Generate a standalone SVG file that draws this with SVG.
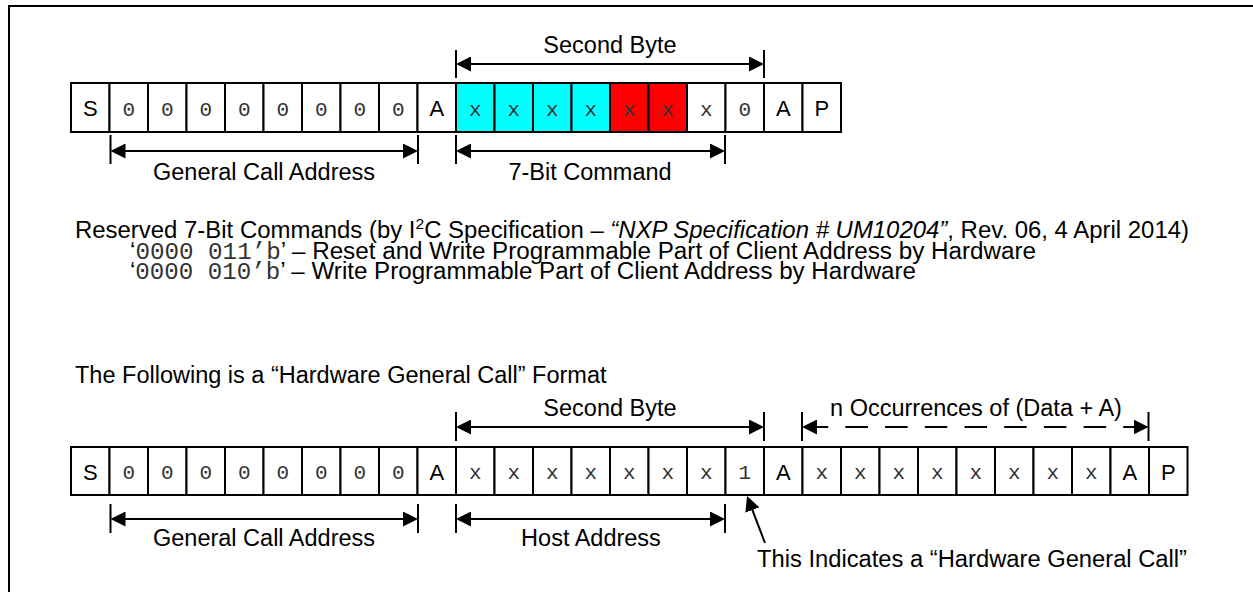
<svg xmlns="http://www.w3.org/2000/svg" width="1253" height="592" viewBox="0 0 1253 592">
<defs>
<marker id="ah" viewBox="0 0 15 15" refX="12" refY="7.5" markerWidth="15" markerHeight="15" markerUnits="userSpaceOnUse" orient="auto-start-reverse">
<path d="M0,0 L15,7.5 L0,15 Z" fill="#000"/>
</marker>
<style>
.c{fill:#fff;stroke:#000;stroke-width:2}
.cy{fill:#00ffff}
.rd{fill:#ff0000}
.L{font-family:"Liberation Sans",Arial,sans-serif;font-size:22px;fill:#000;text-anchor:middle}
.M{font-family:"Liberation Mono","Courier New",monospace;font-size:21px;fill:#333;text-anchor:middle}
.t{font-family:"Liberation Sans",Arial,sans-serif;font-size:23.5px;fill:#000}
.p{font-size:23px}
.tm{font-family:"Liberation Mono","Courier New",monospace;fill:#333}
.m{text-anchor:middle}
.ln{stroke:#000;stroke-width:2;fill:none}
.ar{stroke:#000;stroke-width:2;fill:none;marker-start:url(#ah);marker-end:url(#ah)}
</style>
</defs>
<g id="frame"><path class="ln" d="M9,592 V6 H1253"/></g>

<g id="row1">
<g id="r1c0"><rect class="c" x="71" y="83" width="38.5" height="49"/><text class="L" x="90.25" y="116">S</text></g>
<g id="r1c1"><rect class="c" x="109.5" y="83" width="38.5" height="49"/><text class="M" x="128.75" y="115.5">0</text></g>
<g id="r1c2"><rect class="c" x="148" y="83" width="38.5" height="49"/><text class="M" x="167.25" y="115.5">0</text></g>
<g id="r1c3"><rect class="c" x="186.5" y="83" width="38.5" height="49"/><text class="M" x="205.75" y="115.5">0</text></g>
<g id="r1c4"><rect class="c" x="225" y="83" width="38.5" height="49"/><text class="M" x="244.25" y="115.5">0</text></g>
<g id="r1c5"><rect class="c" x="263.5" y="83" width="38.5" height="49"/><text class="M" x="282.75" y="115.5">0</text></g>
<g id="r1c6"><rect class="c" x="302" y="83" width="38.5" height="49"/><text class="M" x="321.25" y="115.5">0</text></g>
<g id="r1c7"><rect class="c" x="340.5" y="83" width="38.5" height="49"/><text class="M" x="359.75" y="115.5">0</text></g>
<g id="r1c8"><rect class="c" x="379" y="83" width="38.5" height="49"/><text class="M" x="398.25" y="115.5">0</text></g>
<g id="r1c9"><rect class="c" x="417.5" y="83" width="38.5" height="49"/><text class="L" x="436.75" y="116">A</text></g>
<g id="r1c10"><rect class="c cy" x="456" y="83" width="38.5" height="49"/><text class="M" x="475.25" y="115.5">x</text></g>
<g id="r1c11"><rect class="c cy" x="494.5" y="83" width="38.5" height="49"/><text class="M" x="513.75" y="115.5">x</text></g>
<g id="r1c12"><rect class="c cy" x="533" y="83" width="38.5" height="49"/><text class="M" x="552.25" y="115.5">x</text></g>
<g id="r1c13"><rect class="c cy" x="571.5" y="83" width="38.5" height="49"/><text class="M" x="590.75" y="115.5">x</text></g>
<g id="r1c14"><rect class="c rd" x="610" y="83" width="38.5" height="49"/><text class="M" x="629.25" y="115.5">x</text></g>
<g id="r1c15"><rect class="c rd" x="648.5" y="83" width="38.5" height="49"/><text class="M" x="667.75" y="115.5">x</text></g>
<g id="r1c16"><rect class="c" x="687" y="83" width="38.5" height="49"/><text class="M" x="706.25" y="115.5">x</text></g>
<g id="r1c17"><rect class="c" x="725.5" y="83" width="38.5" height="49"/><text class="M" x="744.75" y="115.5">0</text></g>
<g id="r1c18"><rect class="c" x="764" y="83" width="38.5" height="49"/><text class="L" x="783.25" y="116">A</text></g>
<g id="r1c19"><rect class="c" x="802.5" y="83" width="38.5" height="49"/><text class="L" x="821.75" y="116">P</text></g>
</g>

<g id="row2">
<g id="r2c0"><rect class="c" x="71" y="447" width="38.5" height="48"/><text class="L" x="90.25" y="479.5">S</text></g>
<g id="r2c1"><rect class="c" x="109.5" y="447" width="38.5" height="48"/><text class="M" x="128.75" y="479">0</text></g>
<g id="r2c2"><rect class="c" x="148" y="447" width="38.5" height="48"/><text class="M" x="167.25" y="479">0</text></g>
<g id="r2c3"><rect class="c" x="186.5" y="447" width="38.5" height="48"/><text class="M" x="205.75" y="479">0</text></g>
<g id="r2c4"><rect class="c" x="225" y="447" width="38.5" height="48"/><text class="M" x="244.25" y="479">0</text></g>
<g id="r2c5"><rect class="c" x="263.5" y="447" width="38.5" height="48"/><text class="M" x="282.75" y="479">0</text></g>
<g id="r2c6"><rect class="c" x="302" y="447" width="38.5" height="48"/><text class="M" x="321.25" y="479">0</text></g>
<g id="r2c7"><rect class="c" x="340.5" y="447" width="38.5" height="48"/><text class="M" x="359.75" y="479">0</text></g>
<g id="r2c8"><rect class="c" x="379" y="447" width="38.5" height="48"/><text class="M" x="398.25" y="479">0</text></g>
<g id="r2c9"><rect class="c" x="417.5" y="447" width="38.5" height="48"/><text class="L" x="436.75" y="479.5">A</text></g>
<g id="r2c10"><rect class="c" x="456" y="447" width="38.5" height="48"/><text class="M" x="475.25" y="479">x</text></g>
<g id="r2c11"><rect class="c" x="494.5" y="447" width="38.5" height="48"/><text class="M" x="513.75" y="479">x</text></g>
<g id="r2c12"><rect class="c" x="533" y="447" width="38.5" height="48"/><text class="M" x="552.25" y="479">x</text></g>
<g id="r2c13"><rect class="c" x="571.5" y="447" width="38.5" height="48"/><text class="M" x="590.75" y="479">x</text></g>
<g id="r2c14"><rect class="c" x="610" y="447" width="38.5" height="48"/><text class="M" x="629.25" y="479">x</text></g>
<g id="r2c15"><rect class="c" x="648.5" y="447" width="38.5" height="48"/><text class="M" x="667.75" y="479">x</text></g>
<g id="r2c16"><rect class="c" x="687" y="447" width="38.5" height="48"/><text class="M" x="706.25" y="479">x</text></g>
<g id="r2c17"><rect class="c" x="725.5" y="447" width="38.5" height="48"/><text class="M" x="744.75" y="479">1</text></g>
<g id="r2c18"><rect class="c" x="764" y="447" width="38.5" height="48"/><text class="L" x="783.25" y="479.5">A</text></g>
<g id="r2c19"><rect class="c" x="802.5" y="447" width="38.5" height="48"/><text class="M" x="821.75" y="479">x</text></g>
<g id="r2c20"><rect class="c" x="841" y="447" width="38.5" height="48"/><text class="M" x="860.25" y="479">x</text></g>
<g id="r2c21"><rect class="c" x="879.5" y="447" width="38.5" height="48"/><text class="M" x="898.75" y="479">x</text></g>
<g id="r2c22"><rect class="c" x="918" y="447" width="38.5" height="48"/><text class="M" x="937.25" y="479">x</text></g>
<g id="r2c23"><rect class="c" x="956.5" y="447" width="38.5" height="48"/><text class="M" x="975.75" y="479">x</text></g>
<g id="r2c24"><rect class="c" x="995" y="447" width="38.5" height="48"/><text class="M" x="1014.25" y="479">x</text></g>
<g id="r2c25"><rect class="c" x="1033.5" y="447" width="38.5" height="48"/><text class="M" x="1052.75" y="479">x</text></g>
<g id="r2c26"><rect class="c" x="1072" y="447" width="38.5" height="48"/><text class="M" x="1091.25" y="479">x</text></g>
<g id="r2c27"><rect class="c" x="1110.5" y="447" width="38.5" height="48"/><text class="L" x="1129.75" y="479.5">A</text></g>
<g id="r2c28"><rect class="c" x="1149" y="447" width="38.5" height="48"/><text class="L" x="1168.25" y="479.5">P</text></g>
</g>

<g id="connectors">
<path class="ln" d="M456,50 V78 M764,50 V78"/>
<line class="ar" x1="459" y1="64" x2="761" y2="64"/>
<path class="ln" d="M110.5,135 V164 M418,135 V164 M456,135 V164 M725,135 V164"/>
<line class="ar" x1="113.5" y1="151" x2="415" y2="151"/>
<line class="ar" x1="459" y1="151" x2="722" y2="151"/>
<path class="ln" d="M456,412 V441 M764,412 V441 M802,412 V441 M1148.5,412 V441"/>
<line class="ar" x1="459" y1="427" x2="761" y2="427"/>
<line class="ar" x1="805" y1="427" x2="1145.5" y2="427" stroke-dasharray="22.5 17.2" stroke-dashoffset="-0.7"/>
<path class="ln" d="M110.5,504 V533 M418,504 V533 M456,504 V533 M725,504 V533"/>
<line class="ar" x1="113.5" y1="519" x2="415" y2="519"/>
<line class="ar" x1="459" y1="519" x2="722" y2="519"/>
<line class="ln" x1="765" y1="543" x2="748.1" y2="498.8" marker-end="url(#ah)"/>
</g>

<g id="labels">
<text class="t m" x="610" y="53">Second Byte</text>
<text class="t m" x="264" y="180">General Call Address</text>
<text class="t m" x="590" y="180">7-Bit Command</text>
<text class="t p" x="75" y="238" textLength="1114" lengthAdjust="spacingAndGlyphs">Reserved 7-Bit Commands (by I<tspan font-size="15" style="font-size:15px" dy="-9">2</tspan><tspan dy="9">C Specification – </tspan><tspan font-style="italic">“NXP Specification # UM10204”</tspan>, Rev. 06, 4 April 2014)</text>
<text class="t p" x="130" y="259" textLength="906" lengthAdjust="spacingAndGlyphs">‘<tspan class="tm">0000 011’b</tspan>’ – Reset and Write Programmable Part of Client Address by Hardware</text>
<text class="t p" x="130" y="279" textLength="786" lengthAdjust="spacingAndGlyphs">‘<tspan class="tm">0000 010’b</tspan>’ – Write Programmable Part of Client Address by Hardware</text>
<text class="t" x="75" y="383">The Following is a “Hardware General Call” Format</text>
<text class="t m" x="610" y="416">Second Byte</text>
<text class="t m" x="976" y="416">n Occurrences of (Data + A)</text>
<text class="t m" x="264" y="546">General Call Address</text>
<text class="t m" x="591" y="546">Host Address</text>
<text class="t" x="1187" y="567" text-anchor="end" textLength="430" lengthAdjust="spacingAndGlyphs">This Indicates a “Hardware General Call”</text>
</g>
</svg>
